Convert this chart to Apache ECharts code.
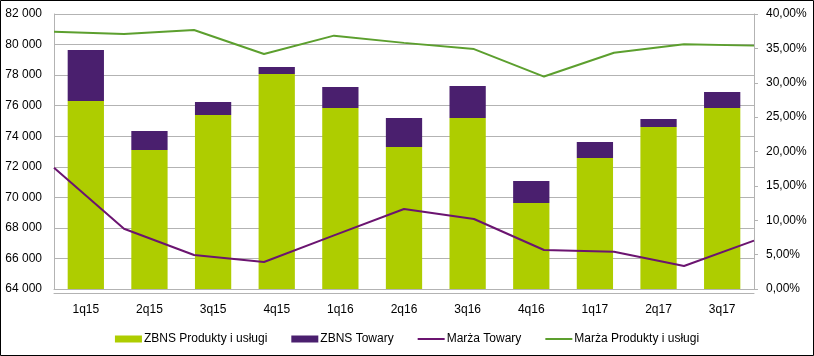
<!DOCTYPE html>
<html><head><meta charset="utf-8">
<script src="https://cdn.jsdelivr.net/npm/echarts@6/dist/echarts.min.js"></script>
<style>html,body{margin:0;padding:0;background:#fff}#c{width:814px;height:356px}</style>
</head><body><div id="c"></div>
<script>
const categories = ['1q15','2q15','3q15','4q15','1q16','2q16','3q16','4q16','1q17','2q17','3q17'];
const zbnsProdukty = [76300, 73100, 75390, 78070, 75850, 73290, 75190, 69630, 72570, 74600, 75850];
const zbnsTowary = [3340, 1240, 850, 460, 1370, 1900, 2100, 1440, 1050, 530, 1040];
const marzaTowary = [17.65, 8.77, 4.95, 3.93, 7.8, 11.64, 10.18, 5.67, 5.43, 3.35, 7.03];
const marzaProdukty = [37.43, 37.09, 37.67, 34.18, 36.85, 35.8, 34.9, 30.9, 34.37, 35.6, 35.4];

const grey = '#b3b3b3';
const txt = {color:'#000', fontFamily:'Liberation Sans, Arial, sans-serif', fontSize:12};
const lineIcon = 'path://M0,0h27v2h-27z';
const chart = echarts.init(document.getElementById('c'), null, {renderer:'canvas'});
chart.setOption({
  animation:false,
  textStyle: txt,
  grid:{left:54, right:60, top:14, bottom:67},
  graphic:[{type:'rect', shape:{x:0.5,y:0.5,width:813,height:355}, style:{fill:'none', stroke:'#000', lineWidth:1}, silent:true}],
  legend:{
    top:328, left:'center', itemGap:24, itemWidth:27, itemHeight:7,
    textStyle:{...txt, padding:[0,0,0,-3]},
    data:[
      {name:'ZBNS Produkty i usługi', icon:'rect'},
      {name:'ZBNS Towary', icon:'rect'},
      {name:'Marża Towary', icon:lineIcon},
      {name:'Marża Produkty i usługi', icon:lineIcon}
    ]
  },
  xAxis:[
    {type:'category', data:categories, boundaryGap:true,
     axisLine:{show:true, lineStyle:{color:grey}}, axisTick:{show:false},
     axisLabel:{...txt, margin:15}},
    {type:'category', data:categories, boundaryGap:false, position:'bottom', offset:4,
     axisLine:{show:true, lineStyle:{color:grey}}, axisTick:{show:false}, axisLabel:{show:false}, splitLine:{show:false}}
  ],
  yAxis:[
    {type:'value', min:64000, max:82000, interval:2000,
     axisLine:{show:true, lineStyle:{color:grey}}, axisTick:{show:false},
     splitLine:{show:true, lineStyle:{color:grey}},
     axisLabel:{...txt, margin:12, formatter:v=>{const s=String(v);return s.slice(0,s.length-3)+' '+s.slice(-3);}}},
    {type:'value', min:0, max:40, interval:5, position:'right',
     axisLine:{show:true, lineStyle:{color:grey}}, axisTick:{show:true, length:4, lineStyle:{color:grey}},
     splitLine:{show:false},
     axisLabel:{...txt, margin:12, formatter:v=>v.toFixed(2).replace('.',',')+'%'}}
  ],
  series:[
    {name:'ZBNS Produkty i usługi', type:'bar', stack:'z', data:zbnsProdukty, xAxisIndex:0, yAxisIndex:0,
     barCategoryGap:'43%', itemStyle:{color:'#aecd00'}},
    {name:'ZBNS Towary', type:'bar', stack:'z', data:zbnsTowary, xAxisIndex:0, yAxisIndex:0,
     itemStyle:{color:'#4a1f6e'}},
    {name:'Marża Towary', type:'line', data:marzaTowary, xAxisIndex:1, yAxisIndex:1,
     symbol:'none', lineStyle:{color:'#6b1470', width:2}, itemStyle:{color:'#6b1470'}},
    {name:'Marża Produkty i usługi', type:'line', data:marzaProdukty, xAxisIndex:1, yAxisIndex:1,
     symbol:'none', lineStyle:{color:'#5c9f2e', width:2}, itemStyle:{color:'#5c9f2e'}}
  ]
});
</script></body></html>
